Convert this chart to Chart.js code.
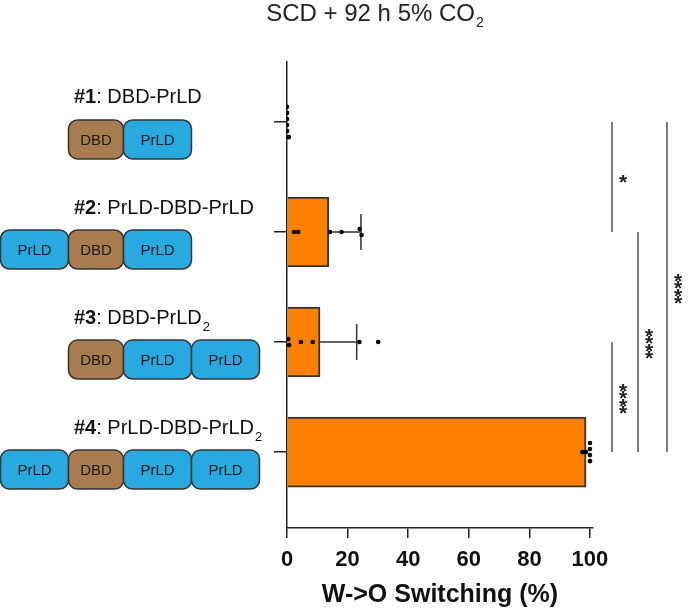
<!DOCTYPE html>
<html>
<head>
<meta charset="utf-8">
<script src="https://cdn.jsdelivr.net/npm/chart.js@4.4.0/dist/chart.umd.min.js"></script>
<style>
  html, body { margin: 0; padding: 0; background: #fff; }
</style>
</head>
<body>
<canvas id="chart" width="689" height="615"></canvas>
<script>
// DATA
const constructs = ['#1', '#2', '#3', '#4'];
const constructNames = ['DBD-PrLD', 'PrLD-DBD-PrLD', 'DBD-PrLD', 'PrLD-DBD-PrLD'];
const nameSubscripts = ['', '', '2', '2'];
const domains = [
  ['DBD', 'PrLD'],
  ['PrLD', 'DBD', 'PrLD'],
  ['DBD', 'PrLD', 'PrLD'],
  ['PrLD', 'DBD', 'PrLD', 'PrLD']
];
const switchingMean = [0, 13.8, 10.9, 98.7];
const switchingSD = [0, 10.6, 12.1, 0];
const replicates = [
  [0, 0, 0, 0, 0, 0.6],
  [2.3, 3.7, 14.2, 18.0, 24.0, 24.6],
  [0.4, 0.7, 4.6, 8.5, 23.9, 30.1],
  [97.5, 98.7, 100, 100, 100, 100]
];
const xTicks = [0, 20, 40, 60, 80, 100];
const comparisons = [
  { from: 0, to: 1, level: 0, label: '*' },
  { from: 2, to: 3, level: 0, label: '****' },
  { from: 1, to: 3, level: 1, label: '****' },
  { from: 0, to: 3, level: 2, label: '****' }
];

const FONT = '"Liberation Sans", Arial, Helvetica, sans-serif';
const DOT_STEP = 0.055; // vertical spread of tied dots, in category units
const colors = { DBD: '#A97C50', PrLD: '#28A9E0' };
const domainWidth = { DBD: 55, PrLD: 68 };

// simple beeswarm: values that sit on top of each other get spread vertically
const dotPoints = [];
replicates.forEach((vals, i) => {
  const sorted = [...vals].sort((a, b) => a - b);
  const groups = [];
  sorted.forEach(v => {
    const g = groups[groups.length - 1];
    if (g && v - g[g.length - 1] < 1.2) g.push(v);
    else groups.push([v]);
  });
  groups.forEach(g => g.forEach((v, k) => {
    dotPoints.push({ x: v, y: i + (k - (g.length - 1) / 2) * DOT_STEP });
  }));
});

const barPoints = switchingMean.map((m, i) => ({ x: m, y: i }));

//PLUGINS
const titlePlugin = {
  id: 'topTitle',
  afterDraw(chart) {
    const ctx = chart.ctx;
    ctx.save();
    ctx.fillStyle = '#222';
    ctx.textBaseline = 'alphabetic';
    ctx.textAlign = 'left';
    const main = 'SCD + 92 h 5% CO';
    ctx.font = '24px ' + FONT;
    const w1 = ctx.measureText(main).width;
    ctx.font = '14px ' + FONT;
    const w2 = ctx.measureText('2').width;
    let x = 375 - (w1 + w2 + 1) / 2;
    ctx.font = '24px ' + FONT;
    ctx.fillText(main, x, 21);
    ctx.font = '14px ' + FONT;
    ctx.fillText('2', x + w1 + 1, 27);
    ctx.restore();
  }
};

const errorBarPlugin = {
  id: 'errorBars',
  beforeDatasetDraw(chart, args) {
    if (args.index !== 1) return;
    const ctx = chart.ctx;
    const xs = chart.scales.x, ys = chart.scales.y;
    ctx.save();
    ctx.strokeStyle = '#333';
    ctx.lineWidth = 1.5;
    switchingMean.forEach((m, i) => {
      if (!switchingSD[i]) return;
      const x0 = xs.getPixelForValue(m);
      const x1 = xs.getPixelForValue(m + switchingSD[i]);
      const yc = ys.getPixelForValue(i);
      ctx.beginPath();
      ctx.moveTo(x0, yc);
      ctx.lineTo(x1, yc);
      ctx.moveTo(x1, yc - 18);
      ctx.lineTo(x1, yc + 18);
      ctx.stroke();
    });
    ctx.restore();
  }
};

const sideLabelPlugin = {
  id: 'sideLabels',
  afterDraw(chart) {
    const ctx = chart.ctx;
    const ys = chart.scales.y;
    ctx.save();
    constructs.forEach((c, i) => {
      const yc = ys.getPixelForValue(i);
      // name
      const ly = yc - 24;
      let x = 74;
      ctx.fillStyle = '#111';
      ctx.textAlign = 'left';
      ctx.textBaseline = 'middle';
      ctx.font = 'bold 20px ' + FONT;
      ctx.fillText(c, x, ly);
      x += ctx.measureText(c).width;
      ctx.font = '20px ' + FONT;
      const rest = ': ' + constructNames[i];
      ctx.fillText(rest, x, ly);
      x += ctx.measureText(rest).width;
      if (nameSubscripts[i]) {
        ctx.font = '13px ' + FONT;
        ctx.fillText(nameSubscripts[i], x + 1, ly + 9);
      }
      // domain boxes, lined up on the DBD
      const row = domains[i];
      const dbd = row.indexOf('DBD');
      let bx = 68;
      for (let k = 0; k < dbd; k++) bx -= domainWidth[row[k]];
      const top = yc - 2, h = 39;
      row.forEach(d => {
        const w = domainWidth[d];
        ctx.beginPath();
        if (ctx.roundRect) ctx.roundRect(bx + 0.5, top, w, h, 9);
        else ctx.rect(bx + 0.5, top, w, h);
        ctx.fillStyle = colors[d];
        ctx.fill();
        ctx.strokeStyle = '#333';
        ctx.lineWidth = 1.5;
        ctx.stroke();
        ctx.fillStyle = '#1a1a1a';
        ctx.font = '15px ' + FONT;
        ctx.textAlign = 'center';
        ctx.fillText(d, bx + w / 2 + 0.5, top + h / 2 + 1);
        ctx.textAlign = 'left';
        bx += w;
      });
    });
    ctx.restore();
  }
};

const bracketPlugin = {
  id: 'brackets',
  afterDraw(chart) {
    const ctx = chart.ctx;
    const ys = chart.scales.y;
    const right = chart.chartArea.right;
    const levelX = [19, 45, 74];
    ctx.save();
    comparisons.forEach(cmp => {
      const lx = right + levelX[cmp.level];
      const y1 = ys.getPixelForValue(cmp.from);
      const y2 = ys.getPixelForValue(cmp.to);
      ctx.strokeStyle = '#222';
      ctx.lineWidth = 1.2;
      ctx.beginPath();
      ctx.moveTo(lx, y1);
      ctx.lineTo(lx, y2);
      ctx.stroke();
      // stars stacked vertically
      const n = cmp.label.length;
      const mid = (y1 + y2) / 2;
      ctx.fillStyle = '#222';
      ctx.font = 'bold 21px ' + FONT;
      ctx.textAlign = 'center';
      ctx.textBaseline = 'alphabetic';
      for (let k = 0; k < n; k++) {
        const cy = mid + (k - (n - 1) / 2) * 7.2;
        ctx.fillText('*', lx + 11, cy + 12);
      }
    });
    ctx.restore();
  }
};

//CHART
const ctx = document.getElementById('chart').getContext('2d');
new Chart(ctx, {
  data: {
    datasets: [{
      type: 'bar',
      label: 'W->O Switching',
      data: barPoints,
      backgroundColor: '#FF8000',
      borderColor: '#333',
      borderWidth: 2,
      barThickness: 70,
      order: 2
    }, {
      type: 'scatter',
      label: 'Replicates',
      data: dotPoints,
      pointRadius: 2.3,
      pointBackgroundColor: '#000',
      pointBorderWidth: 0,
      order: 1
    }]
  },
  options: {
    indexAxis: 'y',
    responsive: false,
    animation: false,
    devicePixelRatio: 1,
    layout: { padding: { left: 0, right: 96, top: 62, bottom: 0 } },
    plugins: {
      legend: { display: false },
      tooltip: { enabled: false },
      title: { display: false }
    },
    scales: {
      x: {
        type: 'linear',
        position: 'bottom',
        min: 0,
        max: 101,
        offset: false,
        afterBuildTicks: (scale) => { scale.ticks = xTicks.map(v => ({ value: v })); },
        afterFit: (scale) => { scale.height = 87; },
        grid: { drawOnChartArea: false, drawTicks: true, offset: false, tickLength: 10, color: '#222', lineWidth: 1.5 },
        border: { color: '#222', width: 1.5 },
        ticks: { color: '#111', font: { family: FONT, size: 22, weight: 'bold' }, padding: 9, maxRotation: 0 },
        title: {
          display: true,
          text: 'W->O Switching (%)',
          color: '#111',
          font: { family: FONT, size: 25, weight: 'bold' },
          padding: { top: 0, bottom: 5 }
        }
      },
      y: {
        type: 'linear',
        position: 'left',
        reverse: true,
        offset: false,
        min: -0.545,
        max: 3.69,
        afterBuildTicks: (scale) => { scale.ticks = constructs.map((c, i) => ({ value: i })); },
        afterFit: (scale) => { scale.width = 287; },
        grid: { drawOnChartArea: false, drawTicks: true, offset: false, tickLength: 13, color: '#222', lineWidth: 1.5 },
        border: { color: '#222', width: 1.5 },
        ticks: { display: false }
      }
    }
  },
  plugins: [titlePlugin, errorBarPlugin, sideLabelPlugin, bracketPlugin]
});
</script>
</body>
</html>
